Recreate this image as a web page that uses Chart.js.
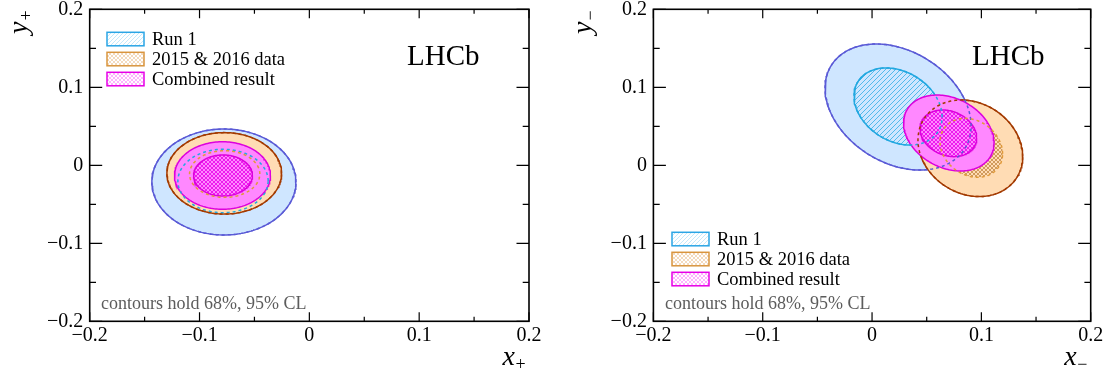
<!DOCTYPE html>
<html>
<head>
<meta charset="utf-8">
<script src="https://cdn.jsdelivr.net/npm/chart.js@4.4.0/dist/chart.umd.min.js"></script>
<style>
  body { margin: 0; background: #fff; width: 1111px; height: 378px; overflow: hidden; position: relative; }
  canvas { position: absolute; top: 0; }
  #cPlus { left: 0; }
  #cMinus { left: 560px; }
</style>
</head>
<body>
<canvas id="cPlus" width="560" height="378"></canvas>
<canvas id="cMinus" width="551" height="378"></canvas>
<script>
// axis ticks (same on both panels)
const tickVals = [-0.2, -0.1, 0, 0.1, 0.2];
const tickLabels = ['\u22120.2', '\u22120.1', '0', '0.1', '0.2'];
const minorVals = [-0.15, -0.05, 0.05, 0.15];
const legendLabels = ['Run 1', '2015 & 2016 data', 'Combined result'];

// contours [cx, cy, halfwidth x, halfwidth y, correlation]; first 95% CL, then 68% CL
const plusRun1 = [[-0.0778, -0.0214, 0.0656, 0.0679, 0.0], [-0.0786, -0.0201, 0.0411, 0.0406, 0.0]];
const plusNew  = [[-0.0775, -0.0103, 0.0522, 0.0522, 0.0], [-0.0771, -0.0112, 0.0320, 0.0299, 0.0]];
const plusComb = [[-0.0791, -0.0131, 0.0437, 0.0433, 0.0], [-0.0786, -0.0131, 0.0268, 0.0263, 0.0]];
const minusRun1 = [[0.0238, 0.0747, 0.0668, 0.0808, -0.30], [0.0238, 0.0754, 0.0403, 0.0494, -0.27]];
const minusNew  = [[0.0899, 0.0218, 0.0479, 0.0619, -0.17], [0.0908, 0.0224, 0.0286, 0.0378, -0.20]];
const minusComb = [[0.0702, 0.0414, 0.0414, 0.0487, -0.26], [0.0698, 0.0410, 0.0259, 0.0299, -0.20]];

const SERIF = '"Liberation Serif", "Times New Roman", serif';

function ellipsePts(p) {
  const [cx, cy, sx, sy, r] = p;
  const s = Math.sqrt(1 - r * r);
  const pts = [];
  for (let i = 0; i <= 180; i++) {
    const t = i / 180 * 2 * Math.PI;
    pts.push({ x: cx + sx * Math.cos(t), y: cy + sy * (r * Math.cos(t) + s * Math.sin(t)) });
  }
  return pts;
}

// pixel hatch: "/" lines, plus "\" when cross
function makePattern(color, bg, cross, size) {
  const c = document.createElement('canvas');
  c.width = c.height = size;
  const g = c.getContext('2d');
  if (bg) { g.fillStyle = bg; g.fillRect(0, 0, size, size); }
  g.fillStyle = color;
  for (let i = 0; i < size; i++) {
    g.fillRect(i, size - 1 - i, 1, 1);
    if (cross) g.fillRect(i, i, 1, 1);
  }
  return g.createPattern(c, 'repeat');
}

const hatchRun1 = makePattern('rgba(40,170,228,0.75)', null, false, 5);
const hatchNew = makePattern('rgba(196,138,70,0.8)', null, true, 4);
const hatchComb = makePattern('rgba(232,0,232,0.8)', null, true, 4);
const legRun1 = makePattern('rgba(90,190,240,0.35)', null, false, 4);
const legNew = makePattern('rgba(220,150,70,0.35)', null, true, 4);
const legComb = makePattern('rgba(255,60,255,0.4)', null, true, 4);

function panelDatasets(run1, nw, comb) {
  const ds = (p, opt) => Object.assign({
    data: ellipsePts(p), showLine: true, pointRadius: 0, borderWidth: 1.5, tension: 0, fill: false
  }, opt);
  return [
    ds(run1[0], { backgroundColor: '#cfe6ff', borderColor: '#5a5ad6', fill: 'shape', order: 10 }),
    ds(run1[1], { backgroundColor: hatchRun1, borderColor: '#22a8e0', fill: 'shape', order: 9 }),
    ds(nw[0], { backgroundColor: '#ffdcb4', borderColor: '#a33a00', fill: 'shape', order: 8 }),
    ds(nw[1], { backgroundColor: hatchNew, borderColor: 'rgba(0,0,0,0)', fill: 'shape', order: 7 }),
    ds(comb[0], { backgroundColor: '#ff88ff', borderColor: '#dd00dd', fill: 'shape', order: 6 }),
    ds(comb[1], { backgroundColor: hatchComb, borderColor: '#dd00dd', fill: 'shape', order: 5 }),
    // dashed outlines of hidden contours
    ds(run1[0], { borderColor: '#5a5ad6', borderDash: [3, 3], order: 4 }),
    ds(run1[1], { borderColor: '#22a8e0', borderDash: [3, 3], order: 3 }),
    ds(nw[0], { borderColor: '#a33a00', borderDash: [3, 3], order: 2 }),
    ds(nw[1], { borderColor: '#e09a3a', borderDash: [3, 3], order: 1 })
  ];
}

// frame, inward ticks, legend and labels
const deco = {
  id: 'deco',
  afterDatasetsDraw(chart, args, o) {
    const { ctx, chartArea: a, scales: { x, y } } = chart;
    ctx.save();
    ctx.strokeStyle = '#000';
    ctx.lineWidth = 1.2;
    ctx.beginPath();
    tickVals.concat(minorVals).forEach(v => {
      const major = tickVals.includes(v);
      const px = x.getPixelForValue(v), py = y.getPixelForValue(v);
      const lx = major ? 9 : 4.5, ly = major ? 12.5 : 6.3;
      ctx.moveTo(px, a.bottom); ctx.lineTo(px, a.bottom - lx);
      ctx.moveTo(px, a.top); ctx.lineTo(px, a.top + lx);
      ctx.moveTo(a.left, py); ctx.lineTo(a.left + ly, py);
      ctx.moveTo(a.right, py); ctx.lineTo(a.right - ly, py);
    });
    ctx.stroke();
    ctx.lineWidth = 1.6;
    ctx.strokeRect(a.left, a.top, a.right - a.left, a.bottom - a.top);

    // legend
    const fills = [legRun1, legNew, legComb];
    const borders = ['#2aa5e5', '#d9953e', '#e600e6'];
    ctx.font = '18.5px ' + SERIF;
    ctx.textBaseline = 'middle';
    ctx.textAlign = 'left';
    legendLabels.forEach((lab, i) => {
      const bx = o.legX, by = o.legY + i * 20;
      ctx.fillStyle = '#fff';
      ctx.fillRect(bx, by, 37, 13.5);
      ctx.fillStyle = fills[i];
      ctx.fillRect(bx, by, 37, 13.5);
      ctx.strokeStyle = borders[i];
      ctx.lineWidth = 1.5;
      ctx.strokeRect(bx, by, 37, 13.5);
      ctx.fillStyle = '#000';
      ctx.fillText(lab, bx + 45, by + 7.5);
    });

    ctx.textBaseline = 'alphabetic';
    ctx.fillStyle = '#000';
    ctx.font = '29px ' + SERIF;
    ctx.fillText('LHCb', o.lhcbX, 65);

    ctx.fillStyle = '#5c5c5c';
    ctx.font = '18px ' + SERIF;
    ctx.fillText('contours hold 68%, 95% CL', o.noteX, 309);

    // axis titles
    ctx.fillStyle = '#000';
    ctx.font = 'italic 28px ' + SERIF;
    ctx.fillText('x', a.right - 26.5, 365);
    ctx.font = '18px ' + SERIF;
    ctx.fillText(o.sub, a.right - 13.5, 370);

    ctx.translate(a.left - 62.7, a.top + 24.7);
    ctx.rotate(-Math.PI / 2);
    ctx.font = 'italic 28px ' + SERIF;
    ctx.fillText('y', 0, 0);
    ctx.font = '18px ' + SERIF;
    ctx.fillText(o.sub, 13.5, 5);
    ctx.restore();
  }
};

function makeChart(id, datasets, yWidth, padRight, opts) {
  const tickFont = { family: SERIF, size: 20, lineHeight: 1.2 };
  return new Chart(document.getElementById(id), {
    type: 'scatter',
    data: { datasets: datasets },
    options: {
      responsive: false,
      animation: false,
      layout: { padding: { top: 9.3, right: padRight, left: 0, bottom: 0 } },
      plugins: { legend: { display: false }, tooltip: { enabled: false }, deco: opts },
      scales: {
        x: {
          type: 'linear', min: -0.2, max: 0.2,
          afterBuildTicks: s => { s.ticks = tickVals.map(v => ({ value: v })); },
          afterFit: s => { s.height = 378 - 321.3; s.paddingLeft = 0; s.paddingRight = 0; },
          ticks: { callback: (v, i) => tickLabels[i], font: tickFont, color: '#000', padding: 2, maxRotation: 0, autoSkip: false },
          grid: { display: false, drawTicks: false },
          border: { display: false }
        },
        y: {
          type: 'linear', min: -0.2, max: 0.2,
          afterBuildTicks: s => { s.ticks = tickVals.map(v => ({ value: v })); },
          afterFit: s => { s.width = yWidth; s.paddingTop = 0; s.paddingBottom = 0; },
          ticks: { callback: (v, i) => tickLabels[i], font: tickFont, color: '#000', padding: 6.5, autoSkip: false },
          grid: { display: false, drawTicks: false },
          border: { display: false }
        }
      }
    },
    plugins: [deco]
  });
}

makeChart('cPlus', panelDatasets(plusRun1, plusNew, plusComb), 89.7, 31,
  { legX: 107, legY: 32.3, lhcbX: 407, noteX: 101, sub: '+' });
makeChart('cMinus', panelDatasets(minusRun1, minusNew, minusComb), 93.4, 20.3,
  { legX: 112, legY: 232.3, lhcbX: 412, noteX: 105, sub: '\u2212' });
</script>
</body>
</html>
